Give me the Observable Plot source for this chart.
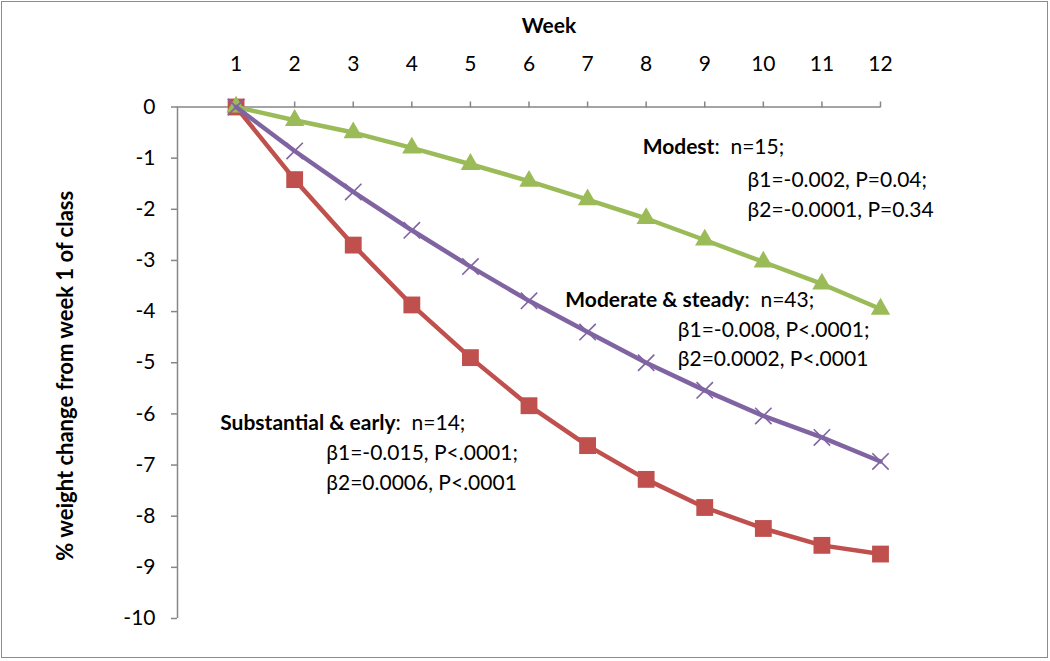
<!DOCTYPE html>
<html><head><meta charset="utf-8">
<script src="https://cdn.jsdelivr.net/npm/d3@7"></script>
<script src="https://cdn.jsdelivr.net/npm/@observablehq/plot@0.6"></script>
<style>
body{margin:0;background:#fff;}
#wrap{position:relative;width:1050px;height:661px;}
#border{position:absolute;left:1px;top:1px;width:1045px;height:655px;border:1.5px solid #8c8c8c;pointer-events:none;}
</style></head><body><div id="wrap"><div id="border"></div></div>
<script>
const weeks = [1,2,3,4,5,6,7,8,9,10,11,12];
const modest = [0,-0.26,-0.5,-0.8,-1.12,-1.45,-1.81,-2.18,-2.6,-3.03,-3.46,-3.95];
const moderate = [0,-0.86,-1.66,-2.41,-3.12,-3.79,-4.4,-5.0,-5.54,-6.04,-6.46,-6.93];
const substantial = [0,-1.42,-2.7,-3.87,-4.9,-5.84,-6.62,-7.28,-7.83,-8.24,-8.57,-8.74];
const yTicks = [0,-1,-2,-3,-4,-5,-6,-7,-8,-9,-10];

const groupNames = ["Modest", "Moderate & steady", "Substantial & early"];
const groupN = ["n=15;", "n=43;", "n=14;"];
const groupB1 = ["β1=-0.002, P=0.04;", "β1=-0.008, P<.0001;", "β1=-0.015, P<.0001;"];
const groupB2 = ["β2=-0.0001, P=0.34", "β2=0.0002, P<.0001", "β2=0.0006, P<.0001"];
// annotation anchors in data space (week, % change)
const titleWeek = [7.94, 6.62, 0.73];
const titleVal = [-0.79, -3.78, -6.18];
const statWeek = [9.73, 8.54, 2.54];
const stat1Val = [-1.44, -4.37, -6.77];
const stat2Val = [-2.02, -4.93, -7.36];

const colors = {"Modest": "#9BBB59", "Moderate & steady": "#8064A2", "Substantial & early": "#C0504D"};
const toRows = (name, vals) => weeks.map((w, i) => ({group: name, week: w, value: vals[i]}));
const rowsM = toRows("Modest", modest);
const rowsD = toRows("Moderate & steady", moderate);
const rowsS = toRows("Substantial & early", substantial);

const titles = groupNames.map((g, i) => ({x: titleWeek[i], y: titleVal[i], text: g + ":  " + groupN[i]}));
const stats = groupNames.flatMap((g, i) => [
  {x: statWeek[i], y: stat1Val[i], text: groupB1[i]},
  {x: statWeek[i], y: stat2Val[i], text: groupB2[i]}
]);

const axisGray = "#868686";
const fam = "Lato, 'Open Sans', sans-serif";
const svg = Plot.plot({
  width: 1050,
  height: 661,
  marginLeft: 177,
  marginRight: 170,
  marginTop: 106.5,
  marginBottom: 43,
  style: {fontFamily: fam, fontSize: "21px", color: "#000", background: "transparent"},
  x: {domain: [0, 12], axis: null},
  y: {domain: [-10, 0], axis: null},
  marks: [
    Plot.ruleY([0], {stroke: axisGray, strokeWidth: 1.5}),
    Plot.ruleX([0], {stroke: axisGray, strokeWidth: 1.5}),
    Plot.axisX(weeks, {anchor: "top", tickSize: 6, tickPadding: 30, stroke: axisGray, strokeWidth: 1.5, fill: "#000", fontSize: 21, label: null}),
    Plot.axisY(yTicks, {anchor: "left", tickSize: 6, tickPadding: 16, stroke: axisGray, strokeWidth: 1.5, fill: "#000", fontSize: 21, label: null, tickFormat: d => String(d)}),
    Plot.text(["Week"], {frameAnchor: "top", dx: 20, dy: -89, fontWeight: "bold", fontSize: 21, fill: "#000"}),
    Plot.text(["% weight change from week 1 of class"], {frameAnchor: "left", textAnchor: "middle", rotate: -90, dx: -112, dy: 13, fontWeight: "bold", fontSize: 22, fill: "#000"}),
    Plot.line(rowsS, {x: "week", y: "value", stroke: colors["Substantial & early"], strokeWidth: 4.5}),
    Plot.dot(rowsS, {x: "week", y: "value", symbol: "square", fill: colors["Substantial & early"], r: 9.5}),
    Plot.line(rowsM, {x: "week", y: "value", stroke: colors["Modest"], strokeWidth: 4.5}),
    Plot.dot(rowsM, {x: "week", y: "value", symbol: "triangle", fill: colors["Modest"], r: 7.2}),
    Plot.line(rowsD, {x: "week", y: "value", stroke: colors["Moderate & steady"], strokeWidth: 4.5}),
    Plot.dot(rowsD, {x: "week", y: "value", symbol: "times", stroke: colors["Moderate & steady"], strokeWidth: 1.6, r: 7.5}),
    Plot.text(titles, {x: "x", y: "y", text: "text", textAnchor: "start", fontSize: 21, fill: "#000"}),
    Plot.text(stats, {x: "x", y: "y", text: "text", textAnchor: "start", fontSize: 21, fill: "#000"})
  ]
});

d3.select(svg).selectAll("text").each(function() {
  const t = this.textContent;
  const name = groupNames.find(g => t.startsWith(g + ":"));
  if (!name) return;
  const sel = d3.select(this);
  sel.text(null).style("white-space", "pre");
  sel.append("tspan").style("font-weight", "bold").text(name);
  sel.append("tspan").style("font-weight", "normal").text(t.slice(name.length));
});

document.getElementById("wrap").appendChild(svg);
</script>
</body></html>
